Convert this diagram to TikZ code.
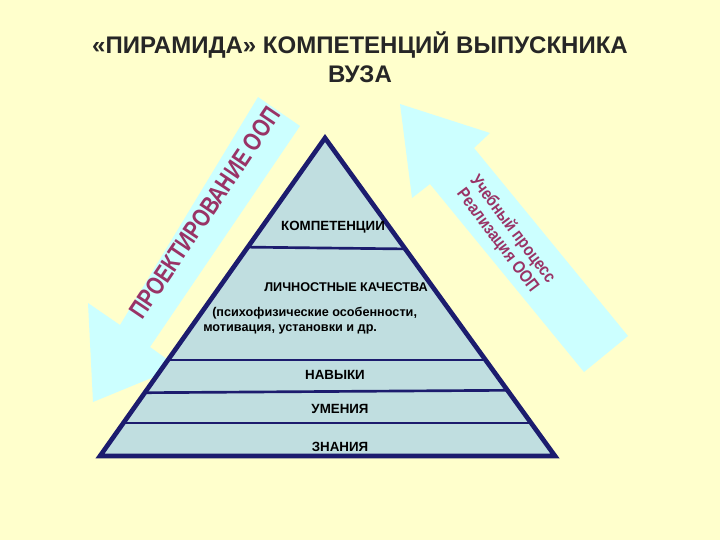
\documentclass[tikz,border=0pt]{standalone}
\usepackage{fontspec}
\setmainfont{Liberation Sans}
\begin{document}
\begin{tikzpicture}[x=0.75pt,y=-0.75pt,
  arrowshape/.style={fill=arrowc,draw=none},
  lvl/.style={draw=navy,line width=2pt},
  ptext/.style={inner sep=0pt},
  ootext/.style={text=maroon,inner sep=0pt,align=center}]
\definecolor{bg}{HTML}{FFFFCC}
\definecolor{arrowc}{HTML}{CCFFFF}
\definecolor{pyr}{HTML}{C0DEE0}
\definecolor{navy}{HTML}{1C1C6E}
\definecolor{maroon}{HTML}{993366}
\fill[bg] (0,0) rectangle (720,540);
\useasboundingbox (0,0) rectangle (720,540);
% title
\node[font=\fontsize{18}{22}\selectfont\bfseries,text=black!85,align=center] (title) at (360,57) {«ПИРАМИДА» КОМПЕТЕНЦИЙ ВЫПУСКНИКА\\ВУЗА};
% arrows
\fill[arrowshape] (258,97) -- (120,325) -- (88,303) -- (93,402) -- (178,367) -- (150,347) -- (300,126) -- cycle;
\fill[arrowshape] (400,104) -- (490,133) -- (474,148) -- (628,336) -- (584,372) -- (430,184) -- (412,198) -- cycle;
% pyramid
\coordinate (apex) at (325,138);
\coordinate (bl) at (100,456);
\coordinate (br) at (555,456);
\fill[pyr] (apex) -- (bl) -- (br) -- cycle;
\begin{scope}
\clip (apex) -- (bl) -- (br) -- cycle;
\draw[lvl] (150,246) -- (500,250);
\draw[lvl] (100,360) -- (550,360);
\draw[lvl] (100,393) -- (550,390);
\draw[lvl] (100,423) -- (550,423);
\end{scope}
\draw[navy,line width=3.5pt,line join=miter] (apex) -- (bl) -- (br) -- cycle;
% texts
\node[ptext,font=\fontsize{10}{12}\selectfont\bfseries] (komp) at (333,227) {КОМПЕТЕНЦИИ};
\node[ptext,font=\fontsize{9.5}{11}\selectfont\bfseries] (lich) at (346,287) {ЛИЧНОСТНЫЕ КАЧЕСТВА};
\node[ptext,anchor=west,font=\fontsize{9.5}{11}\selectfont\bfseries] (psy) at (212,313) {(психофизические особенности,};
\node[ptext,anchor=west,font=\fontsize{9.5}{11}\selectfont\bfseries] (mot) at (203,329) {мотивация, установки и др.};
\node[ptext,font=\fontsize{10}{12}\selectfont\bfseries] (nav) at (335,375) {НАВЫКИ};
\node[ptext,font=\fontsize{10}{12}\selectfont\bfseries] (um) at (340,409) {УМЕНИЯ};
\node[ptext,font=\fontsize{10}{12}\selectfont\bfseries] (zn) at (340,447) {ЗНАНИЯ};
\node[ootext,rotate=56,font=\fontsize{19}{22}\selectfont\bfseries,xscale=0.8] (proj) at (205,213) {ПРОЕКТИРОВАНИЕ ООП};
\node[ootext,rotate=-53,font=\fontsize{13}{14}\selectfont\bfseries,xscale=0.85] (ucheb) at (505,235) {Учебный процесс\\Реализация ООП};
\end{tikzpicture}
\end{document}
